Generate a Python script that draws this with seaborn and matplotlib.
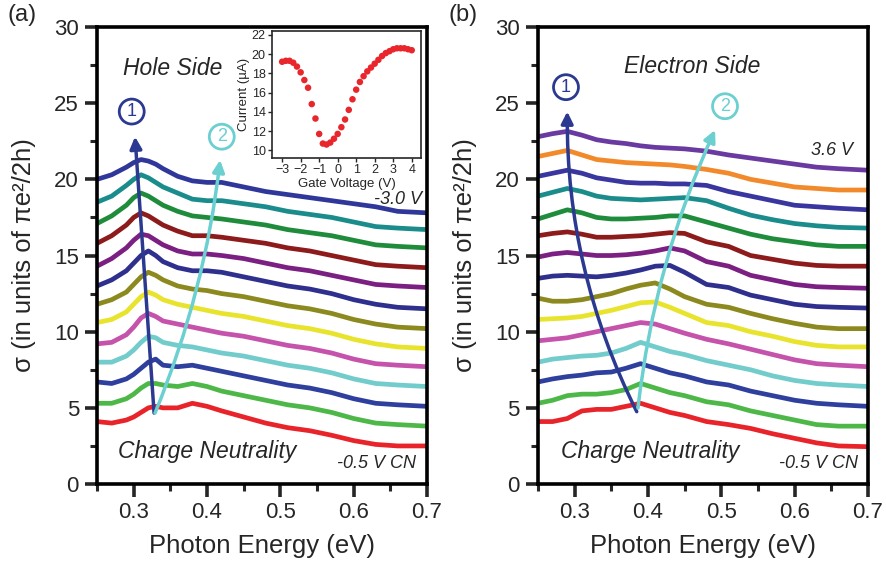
import numpy as np
import pandas as pd
import seaborn as sns
import matplotlib.pyplot as plt
from matplotlib.ticker import MultipleLocator

# ---- panel (a): hole side, bottom trace (CN, -0.5 V) to top trace (-3.0 V)
energy_a = [0.25, 0.27, 0.29, 0.30, 0.31, 0.32, 0.33, 0.34, 0.36, 0.38, 0.40,
            0.42, 0.45, 0.48, 0.51, 0.54, 0.57, 0.60, 0.63, 0.66, 0.70]
hole_red = [4.1, 4.0, 4.2, 4.4, 4.7, 5.0, 5.1, 5.0, 5.0, 5.3, 5.1, 4.8, 4.4, 4.0, 3.7, 3.5, 3.2, 2.85, 2.6, 2.5, 2.5]
hole_green = [5.3, 5.3, 5.6, 5.9, 6.3, 6.6, 6.6, 6.5, 6.4, 6.6, 6.4, 6.1, 5.8, 5.5, 5.2, 5.0, 4.7, 4.3, 4.0, 3.9, 3.8]
hole_blue = [6.7, 6.6, 6.9, 7.2, 7.6, 8.0, 8.2, 7.8, 7.7, 7.8, 7.6, 7.4, 7.1, 6.8, 6.5, 6.3, 6.0, 5.6, 5.3, 5.2, 5.1]
hole_cyan = [8.0, 8.0, 8.4, 8.8, 9.3, 9.7, 9.6, 9.3, 9.1, 9.0, 8.8, 8.6, 8.4, 8.1, 7.8, 7.6, 7.3, 6.9, 6.6, 6.5, 6.4]
hole_magenta = [9.2, 9.3, 9.8, 10.3, 10.9, 11.2, 11.0, 10.7, 10.5, 10.3, 10.1, 9.9, 9.7, 9.4, 9.1, 8.9, 8.6, 8.2, 7.9, 7.8, 7.7]
hole_yellow = [10.6, 10.8, 11.3, 11.8, 12.3, 12.6, 12.4, 12.1, 11.8, 11.6, 11.4, 11.2, 11.0, 10.7, 10.4, 10.2, 9.9, 9.5, 9.2, 9.0, 8.9]
hole_olive = [11.8, 12.1, 12.6, 13.1, 13.6, 13.9, 13.7, 13.4, 13.0, 12.8, 12.7, 12.5, 12.3, 12.0, 11.7, 11.5, 11.2, 10.8, 10.5, 10.3, 10.2]
hole_navy = [13.0, 13.4, 14.0, 14.5, 15.0, 15.3, 15.0, 14.6, 14.2, 14.0, 14.0, 13.9, 13.6, 13.3, 13.0, 12.8, 12.5, 12.1, 11.8, 11.6, 11.5]
hole_purple = [14.3, 14.8, 15.5, 16.0, 16.4, 16.3, 16.0, 15.7, 15.3, 15.1, 15.1, 15.0, 14.8, 14.5, 14.2, 14.0, 13.7, 13.4, 13.1, 13.0, 12.9]
hole_darkred = [15.8, 16.3, 17.0, 17.5, 17.8, 17.6, 17.3, 17.0, 16.6, 16.3, 16.3, 16.2, 16.0, 15.8, 15.5, 15.3, 15.0, 14.7, 14.4, 14.3, 14.2]
hole_darkgreen = [17.1, 17.6, 18.3, 18.8, 19.1, 18.9, 18.6, 18.3, 17.9, 17.6, 17.5, 17.4, 17.2, 17.0, 16.7, 16.5, 16.3, 16.0, 15.7, 15.6, 15.5]
hole_teal = [18.5, 18.9, 19.6, 20.0, 20.3, 20.1, 19.8, 19.5, 19.1, 18.7, 18.6, 18.6, 18.4, 18.2, 17.9, 17.7, 17.5, 17.2, 16.9, 16.8, 16.7]
hole_top = [20.0, 20.3, 20.8, 21.1, 21.3, 21.2, 21.0, 20.7, 20.2, 19.9, 19.8, 19.8, 19.5, 19.2, 19.0, 18.8, 18.6, 18.4, 18.2, 17.9, 17.8]
hole_curves = [hole_red, hole_green, hole_blue, hole_cyan, hole_magenta, hole_yellow, hole_olive,
               hole_navy, hole_purple, hole_darkred, hole_darkgreen, hole_teal, hole_top]
hole_colors = ['#e8242a', '#4db848', '#2e3f9e', '#72cccc', '#c553ab', '#e8e42e', '#8c8a1e',
               '#2f2f8e', '#7b1f82', '#8e1b1b', '#1f8c3c', '#1a8c8c', '#30379a']

# ---- panel (b): electron side, bottom trace (CN, -0.5 V) to top trace (3.6 V)
energy_b = [0.25, 0.27, 0.29, 0.31, 0.33, 0.35, 0.37, 0.39, 0.41, 0.43,
            0.45, 0.48, 0.51, 0.54, 0.57, 0.60, 0.63, 0.66, 0.70]
elec_red = [4.1, 4.1, 4.3, 4.8, 4.9, 4.9, 5.1, 5.3, 5.0, 4.7, 4.5, 4.1, 3.9, 3.65, 3.3, 3.0, 2.7, 2.5, 2.45]
elec_green = [5.3, 5.5, 5.8, 5.9, 5.9, 6.0, 6.2, 6.6, 6.3, 6.0, 5.8, 5.4, 5.2, 4.8, 4.5, 4.2, 3.9, 3.8, 3.8]
elec_blue = [6.7, 6.9, 7.05, 7.15, 7.3, 7.35, 7.6, 7.9, 7.6, 7.3, 7.1, 6.7, 6.5, 6.1, 5.8, 5.5, 5.3, 5.2, 5.1]
elec_cyan = [8.0, 8.2, 8.3, 8.4, 8.45, 8.6, 8.9, 9.3, 9.0, 8.7, 8.5, 8.1, 7.8, 7.5, 7.1, 6.8, 6.6, 6.5, 6.4]
elec_pink = [9.4, 9.5, 9.6, 9.8, 10.0, 10.2, 10.4, 10.6, 10.5, 10.2, 9.9, 9.5, 9.2, 8.85, 8.5, 8.15, 7.9, 7.8, 7.7]
elec_yellow = [10.8, 10.85, 10.9, 11.0, 11.2, 11.4, 11.65, 11.9, 11.95, 11.6, 11.2, 10.6, 10.4, 10.0, 9.7, 9.35, 9.1, 9.0, 9.0]
elec_olive = [12.2, 12.0, 12.0, 12.1, 12.3, 12.5, 12.8, 13.05, 13.2, 12.8, 12.3, 11.8, 11.6, 11.2, 10.85, 10.55, 10.3, 10.2, 10.2]
elec_navy = [13.5, 13.65, 13.7, 13.65, 13.6, 13.7, 13.85, 14.05, 14.3, 14.35, 13.9, 13.1, 12.9, 12.4, 12.1, 11.8, 11.65, 11.6, 11.55]
elec_purple = [14.9, 15.1, 15.2, 15.1, 15.0, 15.0, 15.05, 15.15, 15.3, 15.5, 15.3, 14.6, 14.3, 13.7, 13.4, 13.1, 12.95, 12.9, 12.85]
elec_darkred = [16.3, 16.45, 16.55, 16.4, 16.2, 16.2, 16.25, 16.3, 16.4, 16.5, 16.45, 15.9, 15.6, 15.0, 14.75, 14.5, 14.35, 14.3, 14.3]
elec_darkgreen = [17.4, 17.7, 18.0, 17.8, 17.5, 17.4, 17.4, 17.45, 17.5, 17.6, 17.6, 17.2, 16.8, 16.4, 16.1, 15.9, 15.7, 15.6, 15.6]
elec_teal = [18.9, 19.15, 19.4, 19.2, 18.9, 18.75, 18.7, 18.65, 18.7, 18.75, 18.8, 18.6, 18.1, 17.65, 17.35, 17.1, 16.95, 16.85, 16.8]
elec_indigo = [20.2, 20.4, 20.6, 20.4, 20.1, 19.95, 19.8, 19.75, 19.75, 19.7, 19.7, 19.6, 19.2, 18.9, 18.6, 18.3, 18.2, 18.1, 18.0]
elec_orange = [21.5, 21.7, 21.9, 21.6, 21.3, 21.2, 21.1, 21.05, 21.0, 20.95, 20.85, 20.65, 20.4, 20.0, 19.75, 19.5, 19.4, 19.3, 19.3]
elec_top = [22.8, 23.0, 23.15, 22.9, 22.6, 22.45, 22.35, 22.2, 22.1, 22.05, 22.0, 21.85, 21.6, 21.4, 21.2, 21.0, 20.8, 20.7, 20.6]
elec_curves = [elec_red, elec_green, elec_blue, elec_cyan, elec_pink, elec_yellow, elec_olive, elec_navy,
               elec_purple, elec_darkred, elec_darkgreen, elec_teal, elec_indigo, elec_orange, elec_top]
elec_colors = ['#e8242a', '#4db848', '#2e3f9e', '#72cccc', '#c553ab', '#e8e42e', '#8c8a1e', '#2f2f8e',
               '#7b1f82', '#8e1b1b', '#1f8c3c', '#1a8c8c', '#3a36a0', '#f28a2c', '#6a3aa0']

# ---- inset: transfer curve
gate_v = [-3.0, -2.8, -2.6, -2.4, -2.2, -2.0, -1.8, -1.6, -1.4, -1.2, -1.0, -0.8, -0.6, -0.4, -0.2, 0.0,
          0.2, 0.4, 0.6, 0.8, 1.0, 1.2, 1.4, 1.6, 1.8, 2.0, 2.2, 2.4, 2.6, 2.8, 3.0, 3.2, 3.4, 3.6, 3.8, 4.0]
current = [19.2, 19.3, 19.3, 19.1, 18.7, 18.1, 17.3, 16.5, 14.8, 13.3, 11.7, 10.7, 10.6, 10.8, 11.2, 11.7,
           12.4, 13.2, 14.2, 15.3, 16.3, 17.1, 17.7, 18.2, 18.6, 19.0, 19.4, 19.8, 20.1, 20.3, 20.5, 20.6,
           20.6, 20.6, 20.5, 20.4]

NAVY = '#2b3990'
CYAN = '#6ccfd0'


def long_form(energy, curves):
    rows = []
    for i, c in enumerate(curves):
        for e, v in zip(energy, c):
            rows.append((i, e, v))
    return pd.DataFrame(rows, columns=['trace', 'energy', 'sigma'])


def style_axes(ax):
    ax.set_xlim(0.25, 0.7)
    ax.set_ylim(0, 30)
    ax.xaxis.set_major_locator(MultipleLocator(0.1))
    ax.xaxis.set_minor_locator(MultipleLocator(0.05))
    ax.yaxis.set_major_locator(MultipleLocator(5))
    ax.yaxis.set_minor_locator(MultipleLocator(2.5))
    ax.set_xticks([0.3, 0.4, 0.5, 0.6, 0.7])
    ax.set_xticklabels(['0.3', '0.4', '0.5', '0.6', '0.7'])
    ax.tick_params(which='major', direction='out', length=9, width=2.6, labelsize=16, pad=4)
    ax.tick_params(which='minor', direction='out', length=5, width=2.2)
    for s in ax.spines.values():
        s.set_linewidth(2.6)
        s.set_color('black')
    ax.set_xlabel('Photon Energy (eV)', fontsize=18.5, labelpad=8)
    ax.set_ylabel('σ (in units of πe²/2h)', fontsize=18.5, labelpad=13)


def circled(ax, x, y, num, color):
    ax.text(x, y, num, color=color, fontsize=13, ha='center', va='center', zorder=6,
            bbox=dict(boxstyle='circle,pad=0.22', fc='white', ec=color, lw=2))


def arrow(ax, base, tip, color, rad):
    ax.annotate('', xy=tip, xytext=base, zorder=5,
                arrowprops=dict(arrowstyle='-|>,head_length=0.5,head_width=0.25', color=color,
                                lw=2.5, mutation_scale=14, shrinkA=0, shrinkB=0,
                                connectionstyle=f'arc3,rad={rad}'))


sns.set_style('ticks')
plt.rcParams['font.family'] = ['Liberation Sans', 'DejaVu Sans']

fig = plt.figure(figsize=(8.87, 5.64), dpi=100)
ax_a = fig.add_axes([0.1094, 0.1418, 0.3720, 0.8103])
ax_b = fig.add_axes([0.6065, 0.1418, 0.3720, 0.8103])

sns.lineplot(data=long_form(energy_a, hole_curves), x='energy', y='sigma', hue='trace',
             palette=hole_colors, lw=3.4, legend=False, estimator=None, sort=False, ax=ax_a)
sns.lineplot(data=long_form(energy_b, elec_curves), x='energy', y='sigma', hue='trace',
             palette=elec_colors, lw=3.4, legend=False, estimator=None, sort=False, ax=ax_b)
style_axes(ax_a)
style_axes(ax_b)

# panel (a) annotations
arrow(ax_a, (0.3278, 4.66), (0.3018, 22.8), NAVY, 0.0)
arrow(ax_a, (0.3291, 4.66), (0.4178, 21.27), CYAN, 0.07)
circled(ax_a, 0.2973, 24.45, '1', NAVY)
circled(ax_a, 0.4201, 22.8, '2', CYAN)
ax_a.text(0.3537, 27.3, 'Hole Side', fontsize=16.5, style='italic', ha='center', va='center')
ax_a.text(0.4001, 2.12, 'Charge Neutrality', fontsize=16.5, style='italic', ha='center', va='center')
ax_a.text(0.6316, 1.36, '-0.5 V CN', fontsize=13, style='italic', ha='center', va='center')
ax_a.text(0.6606, 18.65, '-3.0 V', fontsize=13, style='italic', ha='center', va='center')

# panel (b) annotations
arrow(ax_b, (0.3847, 4.75), (0.29, 24.45), NAVY, -0.12)
arrow(ax_b, (0.3864, 4.99), (0.4915, 23.24), CYAN, -0.08)
circled(ax_b, 0.2882, 26.05, '1', NAVY)
circled(ax_b, 0.5051, 24.8, '2', CYAN)
ax_b.text(0.4597, 27.4, 'Electron Side', fontsize=16.5, style='italic', ha='center', va='center')
ax_b.text(0.4028, 2.12, 'Charge Neutrality', fontsize=16.5, style='italic', ha='center', va='center')
ax_b.text(0.632, 1.38, '-0.5 V CN', fontsize=13, style='italic', ha='center', va='center')
ax_b.text(0.6507, 21.88, '3.6 V', fontsize=13, style='italic', ha='center', va='center')

# inset
ax_in = fig.add_axes([0.3066, 0.7199, 0.1680, 0.2252])
sns.scatterplot(x=gate_v, y=current, color='#e8262b', s=22, edgecolor='none', ax=ax_in)
ax_in.set_xlim(-3.55, 4.5)
ax_in.set_ylim(9.2, 22.4)
ax_in.set_xticks([-3, -2, -1, 0, 1, 2, 3, 4])
ax_in.set_yticks([10, 12, 14, 16, 18, 20, 22])
ax_in.tick_params(direction='out', length=3, width=1, labelsize=9, pad=1.5)
for s in ax_in.spines.values():
    s.set_linewidth(1.2)
ax_in.set_xlabel('Gate Voltage (V)', fontsize=9.5, labelpad=1)
ax_in.set_ylabel('Current (µA)', fontsize=9.5, labelpad=1)

fig.text(0.0245, 0.973, '(a)', fontsize=17, ha='center', va='center')
fig.text(0.522, 0.973, '(b)', fontsize=17, ha='center', va='center')

fig.savefig('out.png', dpi=100)
